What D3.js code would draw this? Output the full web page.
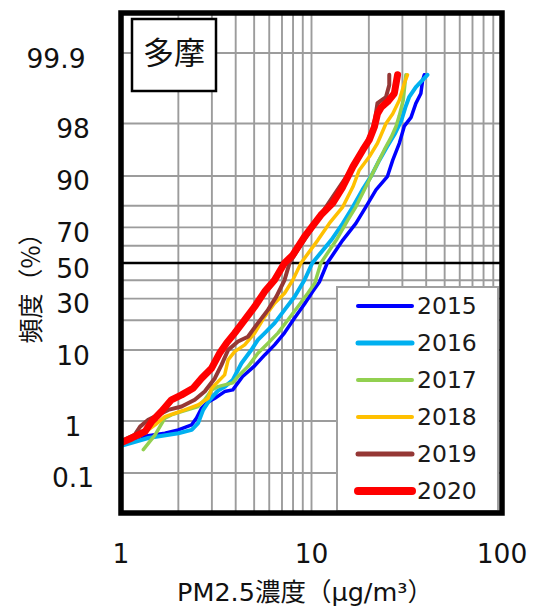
<!DOCTYPE html>
<html>
<head>
<meta charset="utf-8">
<script src="https://cdn.jsdelivr.net/npm/d3@7"></script>
<style>
  html, body { margin: 0; padding: 0; background: #fff; }
  svg { display: block; }
</style>
</head>
<body>
<div id="chart"></div>
<script>
// ---------------- DATA ----------------
const years = ["2015", "2016", "2017", "2018", "2019", "2020"];
const xTicks = [1, 10, 100];
const yTickLabels = [99.9, 98, 90, 70, 50, 30, 10, 1, 0.1];
const yGridPct = [0.1, 1, 10, 20, 30, 40, 50, 60, 70, 80, 90, 98, 99.9];
const panelLabel = "多摩";
const xTitle = "PM2.5濃度（μg/m³）";
const yTitle = "頻度（%）";

// concentration (μg/m3) and cumulative frequency (%) per year
const conc2015 = [0.99, 1.28, 1.70, 2.00, 2.35, 2.49, 2.65, 2.81, 3.11, 3.50, 3.86, 4.35, 5.03, 5.68, 6.40, 7.22, 8.15, 9.19, 10.1, 11.0, 12.1, 14.6, 17.1, 19.3, 21.8, 25.0, 26.7, 28.9, 30.7, 33.3, 35.3, 37.5, 38.3, 39.1];
const pct2015  = [0.37, 0.53, 0.61, 0.70, 0.86, 1.12, 1.63, 1.96, 2.33, 2.92, 3.09, 4.73, 6.49, 8.80, 11.4, 15.2, 20.9, 27.3, 33.5, 39.0, 50, 63.2, 72.0, 79.6, 85.9, 89.8, 93.5, 96.1, 97.8, 98.4, 99.06, 99.37, 99.64, 99.72];

const conc2016 = [0.99, 1.39, 2.00, 2.35, 2.54, 2.70, 2.92, 3.22, 3.50, 3.86, 4.29, 4.83, 5.23, 5.68, 6.40, 7.22, 8.15, 9.19, 10.1, 12.7, 14.6, 16.5, 18.5, 20.6, 22.7, 25.0, 27.5, 29.6, 31.1, 32.6, 35.3, 40.6];
const pct2016  = [0.35, 0.50, 0.61, 0.70, 0.92, 1.53, 2.20, 2.99, 3.41, 4.26, 7.01, 10.0, 12.9, 15.1, 18.8, 24.5, 31.0, 40.1, 50, 63.2, 72.0, 79.6, 85.9, 90.0, 93.5, 95.7, 97.2, 98.2, 98.9, 99.28, 99.52, 99.72];

const conc2017 = [1.31, 1.51, 1.70, 1.84, 2.08, 2.54, 2.75, 2.99, 3.23, 3.50, 3.86, 4.11, 4.64, 5.23, 5.91, 6.66, 7.51, 8.48, 9.56, 10.4, 11.2, 13.5, 15.5, 17.1, 19.3, 21.8, 24.1, 26.2, 27.8, 28.9, 30.3, 31.3];
const pct2017  = [0.30, 0.57, 1.12, 1.27, 1.44, 1.73, 2.20, 3.09, 3.44, 3.64, 3.88, 4.73, 6.36, 9.21, 11.9, 15.1, 20.1, 26.0, 32.8, 38.3, 50, 63.2, 73.6, 79.6, 86.9, 92.2, 95.2, 96.8, 97.8, 98.5, 99.17, 99.72];

const conc2018 = [0.99, 1.26, 1.51, 1.70, 1.92, 2.16, 2.54, 2.87, 2.99, 3.23, 3.50, 3.65, 3.95, 4.46, 5.03, 5.68, 6.40, 7.22, 7.98, 8.81, 10.8, 12.4, 14.6, 16.5, 17.8, 20.1, 22.2, 24.6, 26.7, 28.9, 30.7, 31.9];
const pct2018  = [0.41, 0.55, 0.86, 1.19, 1.35, 1.53, 1.84, 2.33, 3.27, 4.04, 4.98, 7.69, 9.61, 11.4, 15.1, 21.5, 27.7, 32.8, 40.1, 50, 63.2, 72.0, 79.6, 86.9, 91.4, 94.1, 96.1, 98.0, 98.6, 99.17, 99.59, 99.72];

const conc2019 = [0.99, 1.18, 1.26, 1.39, 1.57, 1.77, 2.08, 2.44, 2.75, 3.11, 3.37, 3.65, 4.11, 4.64, 5.23, 5.91, 6.54, 7.22, 7.67, 8.66, 10.2, 11.9, 14.0, 16.5, 19.0, 20.9, 21.6, 22.2, 24.6, 25.6, 25.6];
const pct2019  = [0.43, 0.57, 0.80, 1.05, 1.27, 1.53, 1.73, 2.20, 2.92, 4.50, 6.68, 10.0, 12.4, 13.9, 18.8, 24.5, 31.0, 40.1, 50, 59.3, 70.2, 79.5, 86.8, 92.1, 95.6, 97.5, 98.35, 99.07, 99.27, 99.56, 99.72];

const conc2020 = [0.99, 1.14, 1.34, 1.45, 1.63, 1.84, 2.08, 2.39, 2.65, 2.99, 3.30, 3.58, 3.95, 4.46, 5.03, 5.68, 6.40, 7.22, 7.98, 9.19, 11.2, 12.9, 14.6, 16.5, 18.6, 20.1, 21.4, 22.2, 23.2, 25.1, 27.2, 28.3];
const pct2020  = [0.40, 0.50, 0.66, 0.98, 1.44, 2.20, 2.61, 3.27, 4.50, 6.07, 9.28, 11.9, 15.1, 20.1, 26.0, 33.7, 40.1, 50, 54.7, 65.1, 76.0, 81.0, 86.9, 92.2, 95.2, 96.5, 97.75, 98.6, 98.9, 99.12, 99.37, 99.72];

// ---------------- STYLE ----------------
const colors = ["#0000FF", "#00B0F0", "#92D050", "#FFC000", "#953735", "#FF0000"];
const lineWidths = [3.5, 4, 3.5, 3.5, 4, 7];
const legendWidths = [4, 5, 4, 4, 5, 8];

const seriesConc = [conc2015, conc2016, conc2017, conc2018, conc2019, conc2020];
const seriesPct = [pct2015, pct2016, pct2017, pct2018, pct2019, pct2020];
const series = years.map((y, i) => ({
  year: y,
  color: colors[i],
  width: lineWidths[i],
  values: seriesConc[i].map((c, j) => ({ c: c, p: seriesPct[i][j] }))
}));

// inverse standard normal CDF (probability-paper transform)
function probit(p) {
  const a = [-3.969683028665376e+01, 2.209460984245205e+02, -2.759285104469687e+02, 1.383577518672690e+02, -3.066479806614716e+01, 2.506628277459239e+00];
  const b = [-5.447609879822406e+01, 1.615858368580409e+02, -1.556989798598866e+02, 6.680131188771972e+01, -1.328068155288572e+01];
  const c = [-7.784894002430293e-03, -3.223964580411365e-01, -2.400758277161838e+00, -2.549732188548703e+00, 4.374664141464968e+00, 2.938163982698783e+00];
  const d = [7.784695709041462e-03, 3.224671290700398e-01, 2.445134137142996e+00, 3.754408661907416e+00];
  const plow = 0.02425, phigh = 1 - plow;
  let q, r;
  if (p < plow) {
    q = Math.sqrt(-2 * Math.log(p));
    return (((((c[0]*q+c[1])*q+c[2])*q+c[3])*q+c[4])*q+c[5]) / ((((d[0]*q+d[1])*q+d[2])*q+d[3])*q+1);
  }
  if (p <= phigh) {
    q = p - 0.5; r = q * q;
    return (((((a[0]*r+a[1])*r+a[2])*r+a[3])*r+a[4])*r+a[5])*q / (((((b[0]*r+b[1])*r+b[2])*r+b[3])*r+b[4])*r+1);
  }
  q = Math.sqrt(-2 * Math.log(1 - p));
  return -(((((c[0]*q+c[1])*q+c[2])*q+c[3])*q+c[4])*q+c[5]) / ((((d[0]*q+d[1])*q+d[2])*q+d[3])*q+1);
}

// ---------------- LAYOUT ----------------
const W = 535, H = 608;
const plot = { left: 121, right: 502, top: 13, bottom: 513 };
const zMax = 3.68;

const x = d3.scaleLog().domain([1, 100]).range([plot.left, plot.right]);
const zScale = d3.scaleLinear().domain([-zMax, zMax]).range([plot.bottom, plot.top]);
const y = p => zScale(probit(p / 100));

const svg = d3.select("#chart").append("svg")
  .attr("width", W).attr("height", H)
  .style("font-family", "'DejaVu Sans', Verdana, sans-serif");

svg.append("rect").attr("width", W).attr("height", H).attr("fill", "#fff");

svg.append("defs").append("clipPath").attr("id", "clip")
  .append("rect")
  .attr("x", plot.left).attr("y", plot.top)
  .attr("width", plot.right - plot.left).attr("height", plot.bottom - plot.top);

// vertical grid (log minor/major)
const vGrid = [];
for (let dec = 1; dec < 100; dec *= 10) for (let k = 1; k <= 9; k++) vGrid.push(k * dec);
svg.append("g").selectAll("line").data(vGrid.filter(v => v > 1)).join("line")
  .attr("x1", d => x(d)).attr("x2", d => x(d))
  .attr("y1", plot.top).attr("y2", plot.bottom)
  .attr("stroke", "#9c9c9c").attr("stroke-width", 1.9);

// horizontal grid
svg.append("g").selectAll("line").data(yGridPct).join("line")
  .attr("x1", plot.left).attr("x2", plot.right)
  .attr("y1", d => y(d)).attr("y2", d => y(d))
  .attr("stroke", d => d === 50 ? "#000" : "#9c9c9c")
  .attr("stroke-width", d => d === 50 ? 2.5 : 1.9);

// series lines
const line = d3.line().x(d => x(d.c)).y(d => y(d.p));
svg.append("g").attr("clip-path", "url(#clip)")
  .selectAll("path").data(series).join("path")
  .attr("d", d => line(d.values))
  .attr("fill", "none")
  .attr("stroke", d => d.color)
  .attr("stroke-width", d => d.width)
  .attr("stroke-linejoin", "round")
  .attr("stroke-linecap", "round");

// legend
const lg = svg.append("g");
lg.append("rect").attr("x", 337).attr("y", 287).attr("width", 161).attr("height", 224)
  .attr("fill", "#fff").attr("stroke", "#a0a0a0").attr("stroke-width", 2);
const items = lg.selectAll("g.item").data(series).join("g").attr("class", "item")
  .attr("transform", (d, i) => `translate(0, ${306 + i * 37})`);
items.append("line").attr("x1", 358).attr("x2", 412).attr("y1", 0).attr("y2", 0)
  .attr("stroke", d => d.color).attr("stroke-width", (d, i) => legendWidths[i])
  .attr("stroke-linecap", "round");
items.append("text").attr("x", 417).attr("y", 0).attr("dy", "0.36em")
  .attr("font-size", 23.5).attr("fill", "#1a1a1a").text(d => d.year);

// plot border
svg.append("rect")
  .attr("x", plot.left).attr("y", plot.top)
  .attr("width", plot.right - plot.left).attr("height", plot.bottom - plot.top)
  .attr("fill", "none").attr("stroke", "#000").attr("stroke-width", 5.5);

// panel label box
svg.append("rect").attr("x", 132).attr("y", 19).attr("width", 84).attr("height", 72)
  .attr("fill", "#fff").attr("stroke", "#000").attr("stroke-width", 2.5);
svg.append("text").attr("x", 174).attr("y", 53).attr("dy", "0.36em")
  .attr("text-anchor", "middle").attr("font-size", 31)
  .style("font-family", "'Noto Sans CJK JP', sans-serif")
  .attr("fill", "#111").text(panelLabel);

// y tick labels
svg.append("g").selectAll("text").data(yTickLabels).join("text")
  .attr("x", d => d === 99.9 ? 56 : 73)
  .attr("y", d => y(d) + 5).attr("dy", "0.36em")
  .attr("text-anchor", "middle").attr("font-size", 26.5).attr("fill", "#111")
  .text(d => String(d));

// x tick labels
svg.append("g").selectAll("text").data(xTicks).join("text")
  .attr("x", d => x(d)).attr("y", 553).attr("dy", "0.36em")
  .attr("text-anchor", "middle").attr("font-size", 26.5).attr("fill", "#111")
  .text(d => String(d));

// axis titles
svg.append("text").attr("x", 305).attr("y", 592).attr("dy", "0.36em")
  .attr("text-anchor", "middle").attr("font-size", 25.5).attr("fill", "#111")
  .style("font-family", "'DejaVu Sans', 'Noto Sans CJK JP', sans-serif")
  .text(xTitle);
svg.append("text").attr("transform", "translate(31,282) rotate(-90)")
  .attr("dy", "0.36em").attr("text-anchor", "middle").attr("font-size", 25).attr("fill", "#111")
  .style("font-family", "'Noto Sans CJK JP', sans-serif")
  .text(yTitle);
</script>
</body>
</html>
